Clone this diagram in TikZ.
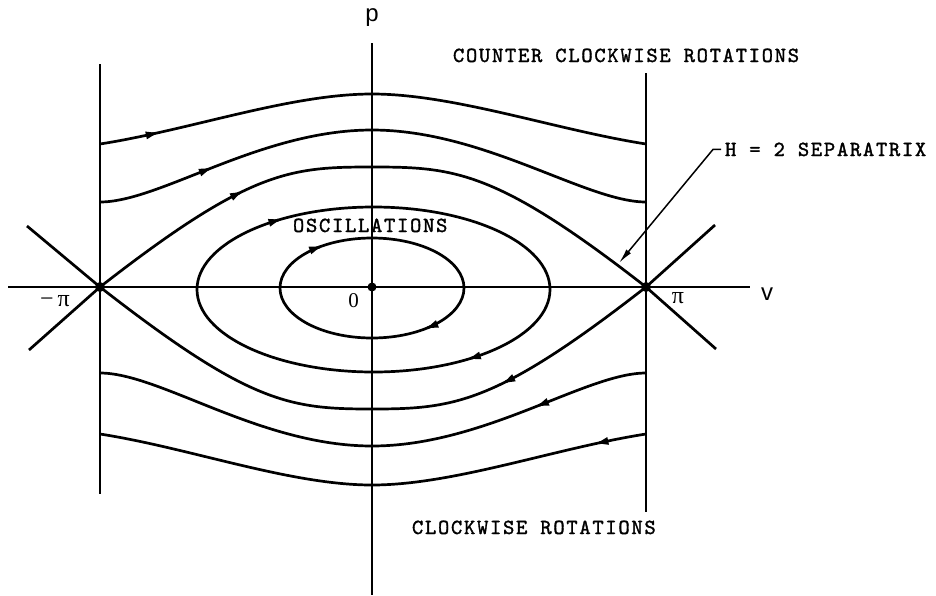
\documentclass[tikz,border=0pt]{standalone}
\usepackage{fontspec}
\usetikzlibrary{arrows.meta}
\newfontfamily\monolab{lmmono10-regular}[Extension=.otf,LetterSpace=8,FakeBold=1.5]
\newfontfamily\sanslab{Liberation Sans}
\newfontfamily\seriflab{Liberation Serif}
\begin{document}
\begin{tikzpicture}[x=1pt,y=-1pt,
  every node/.style={inner sep=0pt,outer sep=0pt},
  ln/.style={line width=2.7pt},
  tipseg/.style={line width=2.7pt,-{Triangle[length=12pt,width=7pt]}},
  leader/.style={line width=1.5pt,-{Latex[length=15pt,width=6pt]}},
  mono/.style={font={\monolab\fontsize{21.5}{24}\selectfont}},
  sans/.style={font={\sanslab\fontsize{24}{28}\selectfont}},
  serif/.style={font={\seriflab\fontsize{21}{24}\selectfont}},
  dot/.style={fill=black}
]
\useasboundingbox (0,0) rectangle (936,595);

% key points
\coordinate (L) at (100,287);
\coordinate (R) at (646,287);
\coordinate (O) at (372,287);

% axes
\coordinate (hL) at (8,287);
\coordinate (hR) at (750,287);
\coordinate (vT) at (372,43);
\coordinate (vB) at (372,595);
\draw[ln] (hL) -- (hR);
\draw[ln] (vT) -- (vB);

% vertical lines at +-pi
\coordinate (lT) at (100,64);
\coordinate (lB) at (100,494);
\coordinate (rT) at (646,73);
\coordinate (rB) at (646,512);
\draw[ln] (lT) -- (lB);
\draw[ln] (rT) -- (rB);

% X lines through the saddles
\coordinate (xl1) at (27,226);
\coordinate (xl2) at (29,350);
\coordinate (xr1) at (715,225);
\coordinate (xr2) at (716,349);
\draw[ln] (xl1) -- (L) -- (xl2);
\draw[ln] (xr1) -- (R) -- (xr2);

% rotation curves (upper, moving right)
\draw[ln] (100,144) .. controls (190,130) and (290,94) .. (372,94)
  coordinate[pos=0.20] (ta) coordinate[pos=0.21] (tb)
  .. controls (454,94) and (556,130) .. (646,144);
\draw[ln] (100,202) .. controls (160,202) and (260,130) .. (372,130)
  coordinate[pos=0.47] (sa) coordinate[pos=0.48] (sb)
  .. controls (484,130) and (586,202) .. (646,202);

% rotation curves (lower, moving left)
\draw[ln] (100,373) .. controls (160,373) and (260,446) .. (372,446)
  .. controls (484,446) and (586,373) .. (646,373)
  coordinate[pos=0.54] (ua) coordinate[pos=0.53] (ub);
\draw[ln] (100,434) .. controls (190,448) and (290,485) .. (372,485)
  .. controls (454,485) and (556,448) .. (646,434)
  coordinate[pos=0.83] (wa) coordinate[pos=0.82] (wb);

% separatrix
\draw[ln] (L) .. controls (250,170) and (290,167) .. (372,167)
  coordinate[pos=0.41] (pa) coordinate[pos=0.42] (pb)
  .. controls (454,167) and (496,170) .. (R);
\draw[ln] (L) .. controls (250,404) and (290,409) .. (372,409)
  .. controls (454,409) and (496,404) .. (R)
  coordinate[pos=0.59] (qa) coordinate[pos=0.58] (qb);

% oscillations: inner
\draw[ln] (464,288) .. controls (464,315.6) and (422.8,338) .. (372,338)
  coordinate[pos=0.59] (ia) coordinate[pos=0.60] (ib)
  .. controls (321.2,338) and (280,315.6) .. (280,288)
  .. controls (280,260.4) and (321.2,238) .. (372,238)
  coordinate[pos=0.62] (ja) coordinate[pos=0.63] (jb)
  .. controls (422.8,238) and (464,260.4) .. cycle;
% oscillations: outer
\draw[ln] (550,289.5) .. controls (550,335.1) and (471,372) .. (373.5,372)
  coordinate[pos=0.63] (ka) coordinate[pos=0.64] (kb)
  .. controls (276,372) and (197,335.1) .. (197,289.5)
  .. controls (197,243.9) and (276,207) .. (373.5,207)
  coordinate[pos=0.64] (ma) coordinate[pos=0.65] (mb)
  .. controls (471,207) and (550,243.9) .. cycle;

% arrowheads along the trajectories
\draw[tipseg] (ta) -- (tb);
\draw[tipseg] (sa) -- (sb);
\draw[tipseg] (pa) -- (pb);
\draw[tipseg] (ja) -- (jb);
\draw[tipseg] (ma) -- (mb);
\draw[tipseg] (ia) -- (ib);
\draw[tipseg] (ka) -- (kb);
\draw[tipseg] (qa) -- (qb);
\draw[tipseg] (ua) -- (ub);
\draw[tipseg] (wa) -- (wb);

% equilibrium points
\fill[dot] (L) circle[radius=5pt];
\fill[dot] (R) circle[radius=5pt];
\fill[dot] (O) circle[radius=4.5pt];

% labels
\node[sans,anchor=base] (plab) at (372,21) {p};
\node[sans,anchor=base] (vlab) at (767,300) {v};
\node[serif,anchor=base] (mpi) at (55,306) {\fontsize{24}{28}\selectfont −\,π};
\node[serif,anchor=base] (ppi) at (678,303) {\fontsize{24}{28}\selectfont π};
\node[serif,anchor=base] (zero) at (353.5,307) {0};

\node[mono,anchor=base west] (osc) at (293,232) {OSCILLATIONS};
\node[mono,anchor=base west] (ccw) at (453,62) {COUNTER CLOCKWISE ROTATIONS};
\node[mono,anchor=base west] (sep) at (725,156) {H = 2 SEPARATRIX};
\node[mono,anchor=base west] (cw) at (412,534) {CLOCKWISE ROTATIONS};

% leader to separatrix
\coordinate (tip) at (619,263);
\draw[leader] ([xshift=-4pt]sep.west) -- ++(-8,0) -- (tip);
\end{tikzpicture}
\end{document}
